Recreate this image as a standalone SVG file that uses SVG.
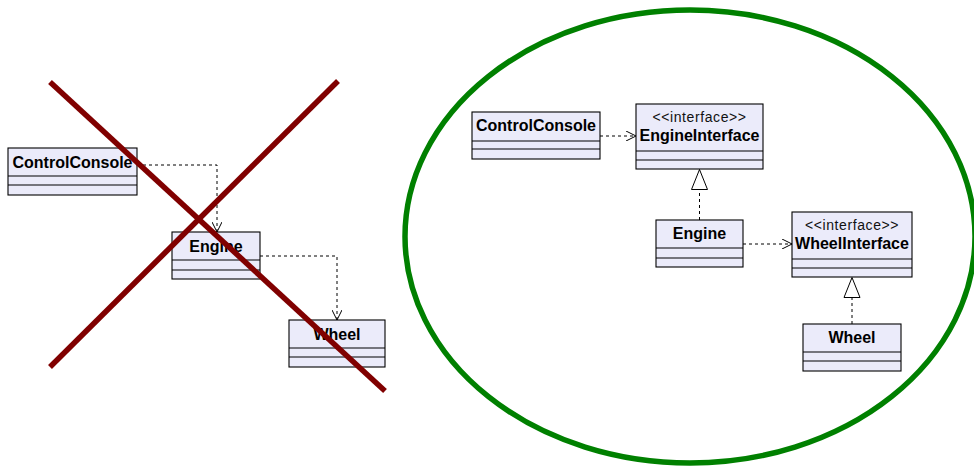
<svg xmlns="http://www.w3.org/2000/svg" width="974" height="468" viewBox="0 0 974 468">
  <defs>
    <style>
      .box { fill: #ebebfa; stroke: #000; stroke-width: 1.1; }
      .sep { stroke: #000; stroke-width: 1.1; }
      .name { font-family: "Liberation Sans", Arial, sans-serif; font-weight: bold; font-size: 16px; fill: #000; text-anchor: middle; }
      .stereo { font-family: "Liberation Sans", Arial, sans-serif; font-size: 14px; letter-spacing: 0.6px; fill: #111; text-anchor: middle; }
      .dep { fill: none; stroke: #000; stroke-width: 1; stroke-dasharray: 3 3; }
      .cross { stroke: #800000; stroke-width: 5.5; stroke-linecap: butt; }
    </style>
    <marker id="open" viewBox="0 0 10 10" refX="10" refY="5" markerWidth="10" markerHeight="10" markerUnits="userSpaceOnUse" orient="auto">
      <path d="M0,0 L10,5 L0,10" fill="none" stroke="#000" stroke-width="1"/>
    </marker>
    <marker id="tri" viewBox="0 0 22 18" refX="21" refY="9" markerWidth="22" markerHeight="18" markerUnits="userSpaceOnUse" orient="auto">
      <path d="M1,1 L21,9 L1,17 Z" fill="#fff" stroke="#000" stroke-width="1"/>
    </marker>
  </defs>

  <!-- tightly coupled design -->
  <g id="left-console">
    <rect class="box" x="8" y="148" width="129" height="47"/>
    <line class="sep" x1="8" y1="176" x2="137" y2="176"/>
    <line class="sep" x1="8" y1="185" x2="137" y2="185"/>
    <text class="name" x="72.5" y="168">ControlConsole</text>
  </g>
  <g id="left-engine">
    <rect class="box" x="172" y="232" width="88" height="47"/>
    <line class="sep" x1="172" y1="260" x2="260" y2="260"/>
    <line class="sep" x1="172" y1="270" x2="260" y2="270"/>
    <text class="name" x="216" y="252">Engine</text>
  </g>
  <g id="left-wheel">
    <rect class="box" x="289" y="320" width="96" height="47"/>
    <line class="sep" x1="289" y1="348" x2="385" y2="348"/>
    <line class="sep" x1="289" y1="357" x2="385" y2="357"/>
    <text class="name" x="337" y="340">Wheel</text>
  </g>
  <g id="left-connectors">
    <path class="dep" d="M137,165 H217 V232" marker-end="url(#open)"/>
    <path class="dep" d="M260,256 H337 V320" marker-end="url(#open)"/>
  </g>
  <g id="cross-out">
    <line class="cross" x1="50" y1="82" x2="385" y2="391"/>
    <line class="cross" x1="338" y1="81" x2="50" y2="367"/>
  </g>

  <!-- decoupled design through interfaces -->
  <ellipse cx="690" cy="236.5" rx="285" ry="226.5" fill="none" stroke="#008000" stroke-width="5.5"/>

  <g id="right-console">
    <rect class="box" x="472" y="112" width="128" height="47"/>
    <line class="sep" x1="472" y1="141" x2="600" y2="141"/>
    <line class="sep" x1="472" y1="149" x2="600" y2="149"/>
    <text class="name" x="536" y="131">ControlConsole</text>
  </g>
  <g id="engine-interface">
    <rect class="box" x="636" y="104" width="127" height="65"/>
    <line class="sep" x1="636" y1="151" x2="763" y2="151"/>
    <line class="sep" x1="636" y1="160" x2="763" y2="160"/>
    <text class="stereo" x="699.5" y="122">&lt;&lt;interface&gt;&gt;</text>
    <text class="name" x="699.5" y="141">EngineInterface</text>
  </g>
  <g id="right-engine">
    <rect class="box" x="656" y="220" width="87" height="47"/>
    <line class="sep" x1="656" y1="248" x2="743" y2="248"/>
    <line class="sep" x1="656" y1="258" x2="743" y2="258"/>
    <text class="name" x="699.5" y="239">Engine</text>
  </g>
  <g id="wheel-interface">
    <rect class="box" x="792" y="212" width="120" height="65"/>
    <line class="sep" x1="792" y1="259" x2="912" y2="259"/>
    <line class="sep" x1="792" y1="268" x2="912" y2="268"/>
    <text class="stereo" x="852" y="230">&lt;&lt;interface&gt;&gt;</text>
    <text class="name" x="852" y="249">WheelInterface</text>
  </g>
  <g id="right-wheel">
    <rect class="box" x="803" y="324" width="98" height="47"/>
    <line class="sep" x1="803" y1="352" x2="901" y2="352"/>
    <line class="sep" x1="803" y1="361" x2="901" y2="361"/>
    <text class="name" x="852" y="343">Wheel</text>
  </g>
  <g id="right-connectors">
    <path class="dep" d="M600,136 H636" marker-end="url(#open)"/>
    <path class="dep" d="M743,244 H792" marker-end="url(#open)"/>
    <path class="dep" d="M699.5,220 V169.5" marker-end="url(#tri)"/>
    <path class="dep" d="M852,324 V277.5" marker-end="url(#tri)"/>
  </g>
</svg>
